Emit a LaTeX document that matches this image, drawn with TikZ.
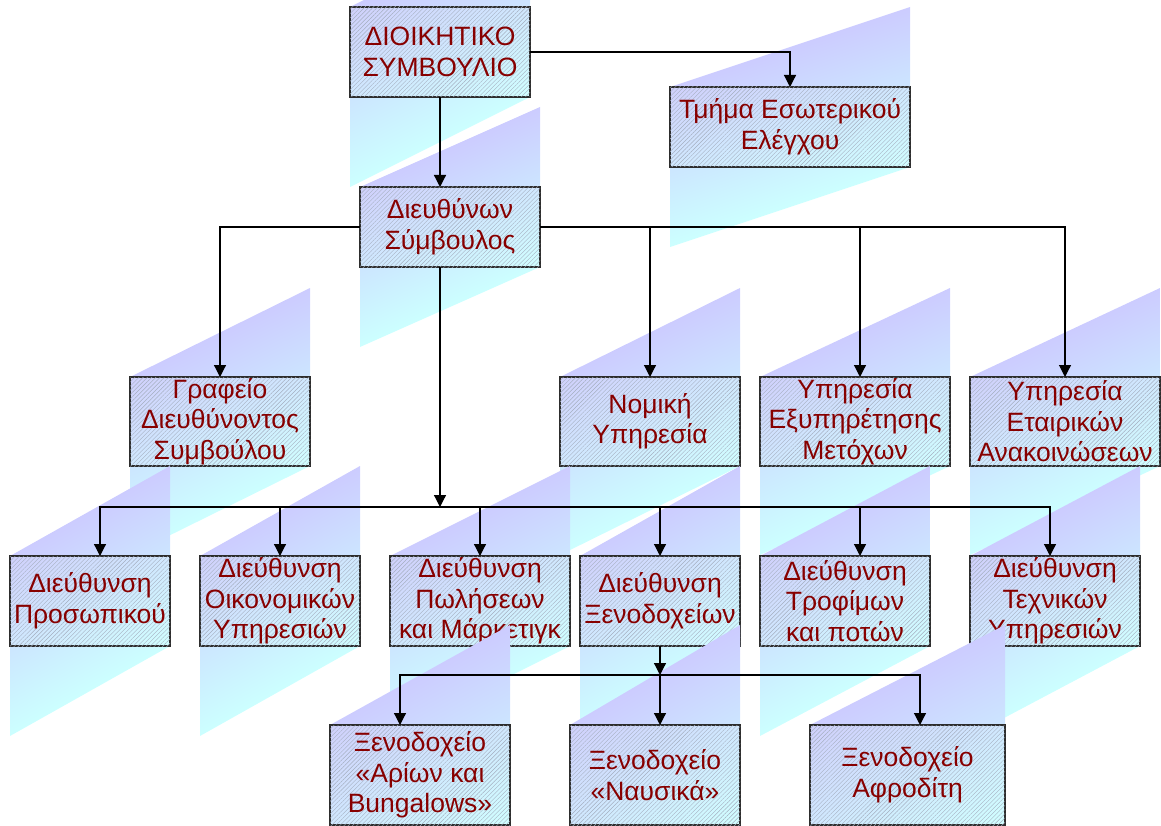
\documentclass[tikz,border=0pt]{standalone}
\usepackage{fontspec}
\setmainfont{Liberation Sans}
\usetikzlibrary{arrows.meta,patterns.meta,shadings}

\definecolor{shtop}{RGB}{204,204,255}
\definecolor{shbot}{RGB}{204,255,255}
\definecolor{boxtl}{RGB}{208,208,252}
\definecolor{boxmid}{RGB}{208,232,254}
\definecolor{boxbr}{RGB}{208,255,255}
\definecolor{hatch}{RGB}{165,175,192}
\definecolor{unittext}{RGB}{135,0,0}
\definecolor{frame}{RGB}{45,45,45}

\tikzset{
  unit/.style={draw=frame, line width=1.2pt, inner sep=0pt, outer sep=0pt,
    upper left=boxtl, upper right=boxmid, lower left=boxmid, lower right=boxbr,
    postaction={pattern={Lines[angle=45,distance=3pt,line width=0.4pt]}, pattern color=hatch},
    text=unittext, align=center, font=\fontsize{26.5}{30.5}\selectfont},
  conn/.style={draw=black, line width=1.2pt, -{Triangle[length=12pt,width=12pt]}},
}

% slanted gradient band behind a unit: x1,y1,x2,y2 of the unit box
\newcommand\unitshadow[4]{%
  \pgfmathsetmacro\uw{#3-#1}%
  \pgfmathsetmacro\uh{#4-#2}%
  \pgfmathsetmacro\uk{\uh/\uw}%
  \shade[transform canvas={shift={(#1,#2)},yslant=\uk}, top color=shtop, bottom color=shbot]
    (0,0) rectangle (\uw,2*\uh);
}
% one unit of the chart: name, x1, y1, x2, y2, label
\newcommand\orgunit[6]{%
  \unitshadow{#2}{#3}{#4}{#5}%
  \pgfmathsetmacro\uw{#4-#2}%
  \pgfmathsetmacro\uh{#5-#3}%
  \node[unit, minimum width=\uw pt, minimum height=\uh pt] (#1)
    at ({(#2+#4)/2},{(#3+#5)/2}) {#6};
}

\begin{document}
\begin{tikzpicture}[x=1pt,y=-1pt]
\useasboundingbox (0,0) rectangle (1161,826);
\clip (0,0) rectangle (1161,826);

\orgunit{ds}{350}{7}{530}{97}{ΔΙΟΙΚΗΤΙΚΟ\\ΣΥΜΒΟΥΛΙΟ}
\orgunit{te}{670}{87}{910}{167}{Τμήμα Εσωτερικού\\Ελέγχου}
\orgunit{ceo}{360}{187}{540}{267}{Διευθύνων\\Σύμβουλος}
\orgunit{gr}{130}{377}{310}{466}{Γραφείο\\Διευθύνοντος\\Συμβούλου}
\orgunit{nom}{560}{377}{740}{466}{Νομική\\Υπηρεσία}
\orgunit{met}{760}{377}{950}{466}{Υπηρεσία\\Εξυπηρέτησης\\Μετόχων}
\orgunit{ana}{970}{377}{1160}{466}{Υπηρεσία\\Εταιρικών\\Ανακοινώσεων}
\orgunit{pro}{10}{556}{170}{646}{Διεύθυνση\\Προσωπικού}
\orgunit{oik}{200}{556}{360}{646}{Διεύθυνση\\Οικονομικών\\Υπηρεσιών}
\orgunit{pol}{390}{556}{570}{646}{Διεύθυνση\\Πωλήσεων\\και Μάρκετιγκ}
\orgunit{xen}{580}{556}{740}{646}{Διεύθυνση\\Ξενοδοχείων}
\orgunit{tro}{760}{556}{930}{646}{Διεύθυνση\\Τροφίμων\\και ποτών}
\orgunit{tex}{970}{556}{1140}{646}{Διεύθυνση\\Τεχνικών\\Υπηρεσιών}
\orgunit{ari}{330}{725}{510}{825}{Ξενοδοχείο\\«Αρίων και\\Bungalows»}
\orgunit{nau}{570}{725}{740}{825}{Ξενοδοχείο\\«Ναυσικά»}
\orgunit{afr}{810}{725}{1005}{825}{Ξενοδοχείο\\Αφροδίτη}

% branch points
\coordinate (hub) at (440,507);
\coordinate (hubx) at (660,675);

% connectors
\draw[conn] (ds.east) -| (te.north);
\draw[conn] (ds.south) -- (ds.south |- ceo.north);
\draw[conn] (ceo.west) -| (gr.north);
\draw[conn] (ceo.east) -| (nom.north);
\draw[conn] (ceo.east) -| ([xshift=5pt]met.north);
\draw[conn] (ceo.east) -| (ana.north);
\draw[conn] (ds.south |- ceo.south) -- (hub);
\draw[conn] (hub) -| ([xshift=10pt]pro.north);
\draw[conn] (hub) -| (oik.north);
\draw[conn] (hub) -| (pol.north);
\draw[conn] (hub) -| (xen.north);
\draw[conn] (hub) -| ([xshift=15pt]tro.north);
\draw[conn] (hub) -| ([xshift=-5pt]tex.north);
\draw[conn] (xen.south) -- (hubx);
\draw[conn] (hubx) -| ([xshift=-20pt]ari.north);
\draw[conn] (hubx) -| ([xshift=5pt]nau.north);
\draw[conn] (hubx) -| ([xshift=12.5pt]afr.north);
\end{tikzpicture}
\end{document}
